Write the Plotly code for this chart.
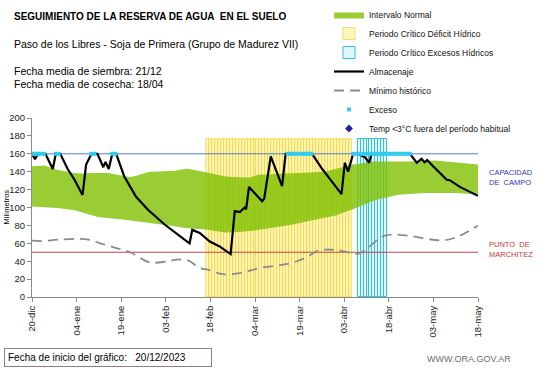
import plotly.graph_objects as go

# ---------------- data (days since 20-dic-2023, millimetres) ----------------
tick_dias = [0, 15, 30, 45, 60, 75, 90, 105, 120, 135, 150]
tick_textos = ["20-dic", "04-ene", "19-ene", "03-feb", "18-feb", "04-mar",
               "19-mar", "03-abr", "18-abr", "03-may", "18-may"]

almacenaje_dias = [0, 1, 2, 4.5, 7, 8, 9.5, 12, 14.3, 17, 18.2, 20, 22, 24, 24.7, 25.8,
                   27, 28.3, 31, 35, 39, 44.6, 51.3, 53, 53.9, 56.4, 59.8, 63.1, 66.8,
                   68.2, 69.9, 71.5, 72, 73, 77.4, 78.1, 80.3, 84.1, 85.3, 94.2, 97.4,
                   100.2, 104.1, 105.2, 106.3, 108, 109.5, 112, 113.4, 114.2, 127.1,
                   129.4, 131, 132, 132.9, 134.9, 139.5, 140.5, 143.9, 150]
almacenaje_mm = [160, 154, 160, 160, 143, 160, 160, 143, 131, 114, 148, 160, 160, 145, 151, 143,
                 160, 160, 135, 112, 97.5, 81, 64, 60, 75, 71.5, 62, 56.5, 48,
                 96, 95, 100, 98, 123, 107, 110, 157, 124, 160, 160, 144,
                 132, 115, 150, 140, 160, 160, 156, 150, 160, 160,
                 150, 154.5, 150.5, 153, 146, 131, 130.5, 123, 113]

minimo_dias = [0, 3, 8.7, 16, 20, 22.7, 28.3, 33, 39.6, 45.7, 48.6, 52.5, 56.4, 59.2, 64.2,
               70.4, 76.6, 87.3, 92.9, 96.2, 100.7, 105, 109.7, 118.7, 126.5, 137.8, 143.4, 150]
minimo_mm = [63, 62.5, 64, 65, 63.5, 60.3, 54.7, 50, 38.7, 40, 41.7, 40.9, 32.4, 30.5, 25.5,
             27, 32.4, 38, 45.4, 52, 52.8, 51, 48.4, 68.5, 68.5, 63.2, 67.7, 80]

normal_sup_dias = [0, 4.2, 8.7, 14.3, 17, 20, 25.5, 31.1, 32.8, 34.5, 39.6, 42.3, 48, 51.3,
                   52.5, 56, 59.2, 64.8, 67.6, 70.4, 73.2, 76, 78.9, 81.6, 92.9, 98.5, 101.9,
                   107.5, 115.3, 126.5, 135.5, 143.4, 150]
normal_sup_mm = [146, 147, 142, 138.5, 138, 138.5, 138.5, 135.5, 134, 134.8, 140, 140.3, 141, 143,
                 143.4, 141, 138.5, 134.8, 134, 134, 133.5, 136.6, 136.6, 137.3, 139.2, 140, 143,
                 147.8, 151.5, 151.5, 152.6, 149.7, 148]
normal_inf_dias = [0, 8.7, 14.3, 22.2, 31.1, 40.1, 48, 51.3, 59.2, 64.8, 70, 76, 81.6, 87.3,
                   95.1, 101.9, 107.5, 115.3, 123.2, 132.2, 143.4, 150]
normal_inf_mm = [101, 99.4, 96.8, 89.4, 86.4, 82.7, 79, 77, 75.2, 72.2, 72.5, 75, 78.2, 80.8,
                 86.4, 90.8, 97.5, 108, 114.3, 116.2, 116.2, 114.3]

deficit_dias = [59, 60, 61, 62, 63, 64, 65, 66, 67, 68, 69, 70, 71, 72, 73, 74, 75, 76, 77,
                78, 79, 80, 81, 82, 83, 84, 85, 86, 87, 88, 89, 90, 91, 92, 93, 94, 95, 96,
                97, 98, 99, 100, 101, 102, 103, 104, 105, 106, 107]
excesos_dias = [110, 111, 112, 113, 114, 115, 116, 117, 118, 119]
altura_periodo = 176

exceso_dias = [0, 1, 2, 3, 4, 8, 9, 20, 21, 27, 28, 86, 87, 88, 89, 90, 91, 92, 93, 94,
               108, 109, 110, 111, 112, 113, 114, 115, 116, 117, 118, 119, 120, 121, 122,
               123, 124, 125, 126, 127]
exceso_mm = [160] * len(exceso_dias)

# no cold-temperature events in this season
temp_frio_dias = [None]
temp_frio_mm = [None]

capacidad_campo = 160
punto_marchitez = 50
eje_x = [0, 150]

FONT = "Liberation Sans"

fig = go.Figure()

# critical periods (bars drawn under scatter layers)
fig.add_trace(go.Bar(x=deficit_dias, y=[altura_periodo] * len(deficit_dias), width=1,
                     marker=dict(color="#FFF6BC", line=dict(color="#EFCB1A", width=0.6)),
                     name="Periodo Crítico Déficit Hídrico", legendrank=2))
fig.add_trace(go.Bar(x=excesos_dias, y=[altura_periodo] * len(excesos_dias), width=1,
                     marker=dict(color="#E2F6FB", line=dict(color="#30C0E2", width=1)),
                     name="Periodo Crítico Excesos Hídricos", legendrank=3))

# normal interval band
fig.add_trace(go.Scatter(x=normal_inf_dias, y=normal_inf_mm, mode="lines",
                         line=dict(width=0, color="rgba(0,0,0,0)"), showlegend=False,
                         hoverinfo="skip"))
fig.add_trace(go.Scatter(x=normal_sup_dias, y=normal_sup_mm, mode="lines", fill="tonexty",
                         fillcolor="rgba(128,192,0,0.80)", line=dict(width=0, color="#99CC00"),
                         name="Intervalo Normal", legendrank=1))

# reference lines
fig.add_trace(go.Scatter(x=eje_x, y=[capacidad_campo] * 2, mode="lines",
                         line=dict(color="#4F7FC4", width=1), showlegend=False))
fig.add_trace(go.Scatter(x=eje_x, y=[punto_marchitez] * 2, mode="lines",
                         line=dict(color="#B84A4A", width=1), showlegend=False))

fig.add_trace(go.Scatter(x=minimo_dias, y=minimo_mm, mode="lines", line_shape="spline",
                         line=dict(color="#8C8C8C", width=1.8, dash="10px,6px"),
                         name="Mínimo histórico", legendrank=5))
fig.add_trace(go.Scatter(x=almacenaje_dias, y=almacenaje_mm, mode="lines",
                         line=dict(color="#000000", width=2.2),
                         name="Almacenaje", legendrank=4))
fig.add_trace(go.Scatter(x=exceso_dias, y=exceso_mm, mode="markers",
                         marker=dict(symbol="square", size=4, color="#33CCEE"),
                         name="Exceso", legendrank=6))
fig.add_trace(go.Scatter(x=temp_frio_dias, y=temp_frio_mm, mode="markers",
                         marker=dict(symbol="diamond", size=6, color="#1F1FA8"),
                         name="Temp <3°C fuera del período habitual", legendrank=7))

L, R, T, B = 32, 63, 118, 71
W, H = 541, 368
pw, ph = W - L - R, H - T - B


def px(xp):
    return (xp - L) / pw


def py(yp):
    return (H - B - yp) / ph


anns = [
    dict(x=px(12), y=py(16), text="<b>SEGUIMIENTO DE LA RESERVA DE AGUA  EN EL SUELO</b>",
         font=dict(size=10, color="#000")),
    dict(x=px(12), y=py(44.5), text="Paso de los Libres - Soja de Primera (Grupo de Madurez VII)",
         font=dict(size=10.5, color="#000")),
    dict(x=px(12), y=py(71), text="Fecha media de siembra: 21/12",
         font=dict(size=10.5, color="#000")),
    dict(x=px(12), y=py(83.5), text="Fecha media de cosecha: 18/04",
         font=dict(size=10.5, color="#000")),
    dict(x=px(487), y=py(177), text="CAPACIDAD<br>DE  CAMPO",
         font=dict(size=7.5, color="#3535B5")),
    dict(x=px(487), y=py(249), text="PUNTO  DE<br>MARCHITEZ",
         font=dict(size=7.5, color="#C03A3A")),
    dict(x=px(425), y=py(359), text="WWW.ORA.GOV.AR",
         font=dict(size=9, color="#6E6E6E")),
    dict(x=px(4), y=py(357.5), text="Fecha de inicio del gráfico:   20/12/2023",
         font=dict(size=10, color="#000"), bordercolor="#8E7E7E", borderwidth=1,
         borderpad=3, width=200, align="left"),
]
for a in anns:
    a.update(xref="paper", yref="paper", xanchor="left", yanchor="middle",
             showarrow=False, align=a.get("align", "left"))
    a["font"]["family"] = FONT
    fig.add_annotation(**a)

fig.add_annotation(xref="paper", yref="paper", x=px(6), y=0.5, text="Milímetros",
                   textangle=-90, showarrow=False, xanchor="center", yanchor="middle",
                   font=dict(family=FONT, size=7.5, color="#000"))

axis_common = dict(showgrid=False, zeroline=False, showline=True, linecolor="#8A8A8A",
                   linewidth=1, ticks="outside", tickcolor="#8A8A8A", ticklen=4,
                   tickfont=dict(family=FONT, size=9.5, color="#222"))

fig.update_layout(
    width=W, height=H,
    margin=dict(l=L, r=R, t=T, b=B, autoexpand=False),
    paper_bgcolor="white", plot_bgcolor="white",
    barmode="overlay", bargap=0,
    showlegend=True,
    legend=dict(xref="container", yref="container", x=329 / W, y=1.012,
                xanchor="left", yanchor="top", bgcolor="rgba(0,0,0,0)",
                font=dict(family=FONT, size=8.5, color="#111"),
                itemwidth=30, tracegroupgap=0, traceorder="normal"),
    xaxis=dict(range=[0, 150], tickvals=tick_dias, ticktext=tick_textos, tickangle=-90,
               **axis_common),
    yaxis=dict(range=[0, 200], dtick=20, **axis_common),
)

fig.write_html("out.html", config={"displayModeBar": False},
               post_script="document.body.style.margin='0';document.body.style.overflow='hidden';")
